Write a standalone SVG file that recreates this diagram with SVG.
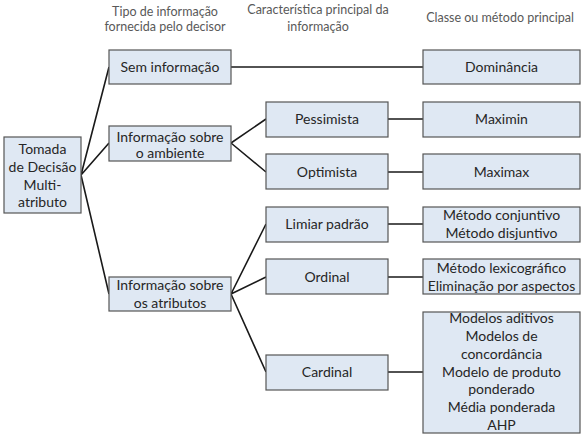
<svg xmlns="http://www.w3.org/2000/svg" width="585" height="438" viewBox="0 0 585 438">
<style>
.box{fill:#dfe8f3;stroke:#555;stroke-width:1.2}
.t{font-family:Lato,"Open Sans",sans-serif;font-size:14px;fill:#262626;text-anchor:middle}
.h{font-family:Lato,"Open Sans",sans-serif;font-size:12.5px;fill:#595959;text-anchor:middle}
.c{stroke:#1a1a1a;stroke-width:1.6;fill:none}
</style>
<rect width="585" height="438" fill="#fff"/>
<g id="headers">
<text class="h" x="165" y="16">Tipo de informação</text>
<text class="h" x="165" y="31">fornecida pelo decisor</text>
<text class="h" x="318" y="14">Característica principal da</text>
<text class="h" x="318" y="31">informação</text>
<text class="h" x="500" y="22">Classe ou método principal</text>
</g>
<g id="connectors">
<path class="c" d="M81,175 L109,67 M81,175 L109,143 M81,175 L109,294"/>
<path class="c" d="M231,67 L423,67"/>
<path class="c" d="M231,143 L266,119 M231,143 L266,172"/>
<path class="c" d="M231,294 L266,224 M231,294 L266,277 M231,294 L266,372"/>
<path class="c" d="M388,119 L423,119 M388,172 L423,172 M388,224 L423,224 M388,277 L423,277 M388,372 L423,372"/>
</g>
<g id="root">
<rect class="box" x="4" y="137" width="77" height="76"/>
<text class="t" x="42.5" y="154">Tomada</text>
<text class="t" x="42.5" y="172">de Decisão</text>
<text class="t" x="42.5" y="190">Multi-</text>
<text class="t" x="42.5" y="207">atributo</text>
</g>
<g id="sem-informacao">
<rect class="box" x="109" y="50" width="122" height="34"/>
<text class="t" x="170" y="72">Sem informação</text>
</g>
<g id="info-ambiente">
<rect class="box" x="109" y="126" width="122" height="35"/>
<text class="t" x="170" y="142">Informação sobre</text>
<text class="t" x="170" y="158">o ambiente</text>
</g>
<g id="info-atributos">
<rect class="box" x="109" y="277" width="122" height="34"/>
<text class="t" x="170" y="290">Informação sobre</text>
<text class="t" x="170" y="308">os atributos</text>
</g>
<g id="pessimista">
<rect class="box" x="266" y="102" width="122" height="35"/>
<text class="t" x="327" y="124">Pessimista</text>
</g>
<g id="optimista">
<rect class="box" x="266" y="154" width="122" height="35"/>
<text class="t" x="327" y="177">Optimista</text>
</g>
<g id="limiar">
<rect class="box" x="266" y="207" width="122" height="35"/>
<text class="t" x="327" y="229">Limiar padrão</text>
</g>
<g id="ordinal">
<rect class="box" x="266" y="259" width="122" height="35"/>
<text class="t" x="327" y="282">Ordinal</text>
</g>
<g id="cardinal">
<rect class="box" x="266" y="355" width="122" height="35"/>
<text class="t" x="327" y="377">Cardinal</text>
</g>
<g id="dominancia">
<rect class="box" x="423" y="50" width="157" height="34"/>
<text class="t" x="501.5" y="72">Dominância</text>
</g>
<g id="maximin">
<rect class="box" x="423" y="102" width="157" height="35"/>
<text class="t" x="501.5" y="124">Maximin</text>
</g>
<g id="maximax">
<rect class="box" x="423" y="154" width="157" height="35"/>
<text class="t" x="501.5" y="177">Maximax</text>
</g>
<g id="metodos-limiar">
<rect class="box" x="423" y="207" width="157" height="35"/>
<text class="t" x="501.5" y="220">Método conjuntivo</text>
<text class="t" x="501.5" y="238">Método disjuntivo</text>
</g>
<g id="metodos-ordinal">
<rect class="box" x="423" y="259" width="157" height="35"/>
<text class="t" x="501.5" y="273">Método lexicográfico</text>
<text class="t" x="501.5" y="291">Eliminação por aspectos</text>
</g>
<g id="metodos-cardinal">
<rect class="box" x="423" y="312" width="157" height="121"/>
<text class="t" x="501.5" y="323">Modelos aditivos</text>
<text class="t" x="501.5" y="341">Modelos de</text>
<text class="t" x="501.5" y="359">concordância</text>
<text class="t" x="501.5" y="377">Modelo de produto</text>
<text class="t" x="501.5" y="394">ponderado</text>
<text class="t" x="501.5" y="412">Média ponderada</text>
<text class="t" x="501.5" y="430">AHP</text>
</g>
</svg>
